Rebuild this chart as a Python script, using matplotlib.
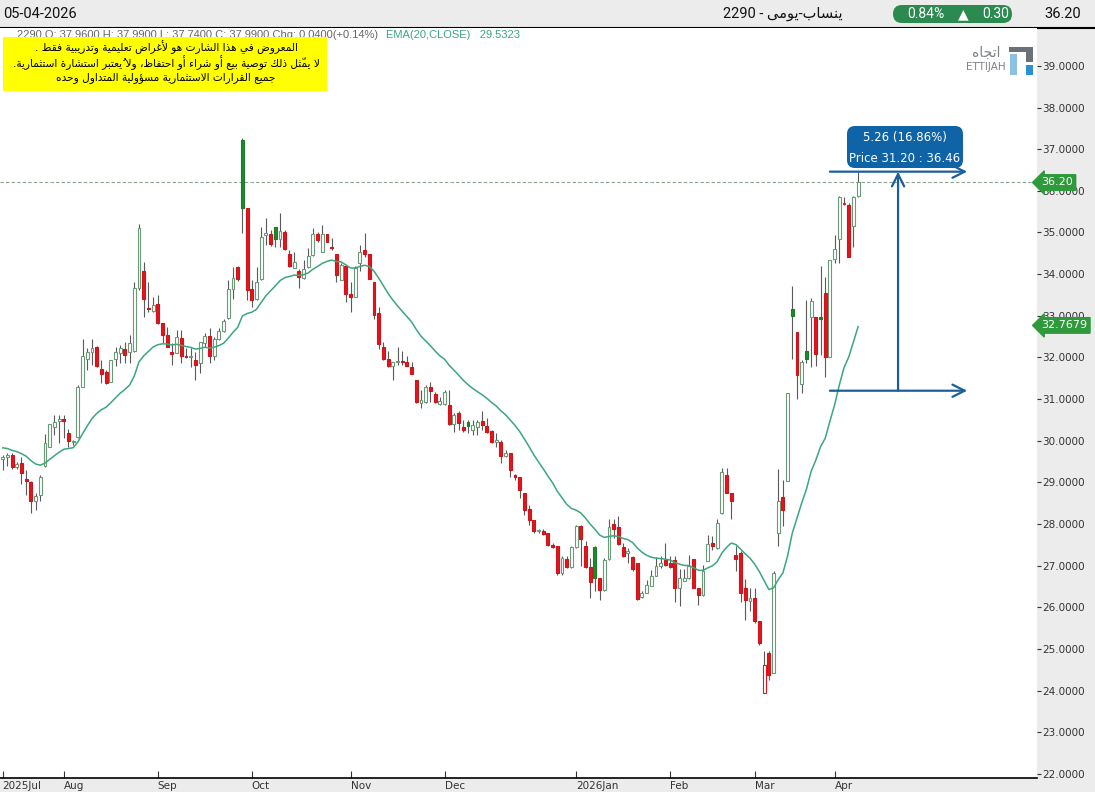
import matplotlib
matplotlib.use('Agg')
import matplotlib.pyplot as plt
from matplotlib.patches import FancyBboxPatch, Rectangle
import numpy as np
import pandas as pd

# ---- data ----
opens = [29.56, 29.60, 29.66, 29.36, 29.46, 29.08, 29.00, 28.54, 28.70, 29.39,
         29.86, 30.34, 30.47, 30.52, 30.18, 29.97, 30.08, 31.30, 31.96, 32.12,
         32.24, 31.72, 31.64, 31.40, 31.96, 32.10, 32.20, 32.14, 32.16, 33.66,
         34.08, 33.19, 33.12, 33.28, 32.82, 32.54, 32.14, 32.10, 32.46, 32.01,
         32.02, 31.94, 31.86, 32.34, 32.52, 32.04, 32.44, 32.64, 32.94, 33.64,
         34.17, 37.22, 35.58, 33.64, 33.40, 33.88, 34.94, 34.97, 35.14, 34.84,
         35.02, 34.48, 34.14, 34.08, 33.90, 34.17, 34.46, 34.96, 34.52, 34.96,
         34.63, 34.48, 33.86, 34.20, 33.52, 33.46, 34.26, 34.58, 34.48, 33.80,
         33.06, 32.26, 31.96, 31.80, 31.89, 31.90, 31.90, 31.76, 31.46, 30.91,
         30.94, 31.28, 31.12, 30.88, 30.88, 30.86, 30.40, 30.67, 30.34, 30.46,
         30.26, 30.34, 30.48, 30.36, 30.23, 29.98, 29.98, 29.63, 29.71, 29.16,
         29.14, 28.74, 28.36, 28.10, 27.82, 27.84, 27.79, 27.50, 27.46, 26.83,
         27.15, 26.96, 27.44, 27.95, 27.46, 26.96, 27.44, 26.70, 26.42, 27.15,
         28.00, 27.92, 27.44, 27.30, 27.20, 27.06, 26.24, 26.35, 26.51, 26.75,
         26.98, 27.14, 27.06, 27.14, 26.46, 26.62, 26.70, 27.15, 26.46, 26.30,
         27.12, 27.54, 27.42, 28.26, 29.18, 28.75, 27.26, 27.31, 26.46, 26.16,
         26.22, 25.66, 23.94, 24.90, 24.43, 27.78, 28.64, 29.02, 33.16, 32.62,
         31.36, 32.16, 32.96, 32.96, 32.96, 33.54, 32.02, 34.36, 34.84, 35.68,
         35.66, 35.16, 35.88]
highs = [29.66, 29.71, 29.71, 29.49, 29.62, 29.30, 29.02, 28.74, 29.18, 30.16,
         30.40, 30.62, 30.62, 30.62, 30.28, 30.02, 31.34, 32.44, 32.22, 32.44,
         32.27, 31.94, 31.70, 31.94, 32.26, 32.30, 32.36, 32.54, 33.82, 35.21,
         34.28, 33.82, 33.46, 33.50, 32.82, 32.74, 32.34, 32.66, 32.66, 32.22,
         32.23, 32.14, 32.38, 32.58, 32.70, 32.50, 32.70, 32.92, 33.86, 34.17,
         34.20, 37.27, 35.58, 33.86, 34.17, 35.14, 35.35, 35.06, 35.14, 35.47,
         35.06, 34.58, 34.54, 34.12, 34.34, 34.62, 35.11, 35.00, 35.18, 34.96,
         34.87, 34.48, 34.26, 34.22, 33.82, 34.20, 34.70, 34.98, 34.48, 33.80,
         33.22, 32.36, 32.16, 31.89, 32.26, 32.16, 32.04, 31.90, 31.46, 31.22,
         31.34, 31.42, 31.18, 31.06, 31.22, 31.22, 30.66, 30.72, 30.50, 30.50,
         30.50, 30.50, 30.72, 30.55, 30.26, 30.19, 30.02, 29.78, 29.71, 29.20,
         29.14, 28.74, 28.46, 28.10, 27.88, 27.87, 27.79, 27.55, 27.46, 27.22,
         27.22, 27.46, 27.98, 27.98, 27.58, 27.18, 27.46, 26.70, 27.18, 28.12,
         28.12, 28.18, 27.54, 27.42, 27.23, 27.06, 26.38, 26.66, 26.90, 27.20,
         27.22, 27.54, 27.22, 27.22, 26.91, 26.91, 27.26, 27.15, 26.46, 27.02,
         27.74, 27.70, 28.12, 29.34, 29.34, 28.75, 27.46, 27.34, 26.67, 26.46,
         26.46, 25.66, 24.94, 24.94, 26.86, 29.32, 29.06, 31.15, 33.72, 32.62,
         31.94, 33.38, 33.42, 32.96, 34.20, 33.92, 34.34, 34.94, 35.88, 35.86,
         35.70, 35.88, 36.45]
lows = [29.30, 29.39, 29.32, 29.32, 28.96, 28.70, 28.26, 28.34, 28.54, 29.38,
        29.86, 30.14, 29.95, 30.07, 29.86, 29.90, 30.06, 31.28, 31.70, 31.82,
        31.77, 31.38, 31.36, 31.40, 31.80, 31.86, 31.86, 31.87, 32.14, 33.62,
        32.98, 33.10, 33.10, 32.80, 32.34, 32.26, 31.82, 32.10, 31.86, 31.98,
        31.78, 31.46, 31.62, 32.26, 31.87, 31.94, 32.42, 32.62, 32.92, 33.40,
        33.84, 34.98, 33.38, 33.22, 33.38, 33.86, 34.70, 34.68, 34.66, 34.66,
        34.58, 34.17, 34.14, 33.66, 33.88, 34.14, 34.44, 34.78, 34.52, 34.76,
        34.58, 33.82, 33.85, 33.34, 33.10, 33.46, 34.08, 34.42, 33.88, 32.92,
        32.20, 31.94, 31.78, 31.46, 31.82, 31.82, 31.80, 31.60, 30.90, 30.78,
        30.90, 30.94, 30.91, 30.86, 30.86, 30.38, 30.22, 30.26, 30.22, 30.18,
        30.14, 30.14, 30.26, 30.18, 29.95, 29.86, 29.46, 29.60, 29.14, 29.06,
        28.62, 28.22, 27.98, 27.78, 27.78, 27.74, 27.47, 27.42, 26.78, 26.78,
        26.94, 26.94, 27.42, 26.98, 26.94, 26.22, 26.38, 26.18, 26.40, 27.14,
        27.66, 27.50, 27.20, 27.06, 26.88, 26.18, 26.22, 26.34, 26.50, 26.74,
        26.94, 26.98, 26.94, 26.13, 26.02, 26.62, 26.68, 26.46, 26.06, 26.27,
        27.10, 27.38, 27.40, 28.24, 28.75, 28.12, 26.86, 26.13, 25.70, 25.90,
        25.63, 25.10, 23.94, 24.26, 24.42, 27.47, 27.94, 29.02, 31.96, 31.00,
        31.15, 31.86, 31.78, 31.80, 32.06, 31.52, 32.00, 34.26, 34.26, 35.66,
        34.41, 34.66, 35.86]
closes = [29.62, 29.66, 29.36, 29.44, 29.23, 29.02, 28.54, 28.66, 29.14, 29.95,
          30.40, 30.46, 30.52, 30.47, 30.00, 30.00, 31.30, 32.04, 32.14, 32.22,
          31.80, 31.60, 31.38, 31.94, 32.12, 32.22, 32.06, 32.34, 33.66, 35.10,
          33.40, 33.17, 33.25, 32.82, 32.54, 32.26, 32.08, 32.48, 32.04, 32.00,
          32.04, 31.82, 32.36, 32.52, 32.04, 32.44, 32.64, 32.88, 33.64, 33.90,
          33.88, 35.58, 33.62, 33.38, 33.82, 34.90, 34.99, 34.72, 34.84, 35.04,
          34.60, 34.20, 34.30, 33.93, 34.12, 34.44, 34.96, 34.82, 34.96, 34.76,
          34.62, 33.98, 34.22, 33.52, 33.46, 34.14, 34.54, 34.48, 33.88, 33.02,
          32.32, 31.96, 31.80, 31.88, 31.90, 31.89, 31.80, 31.60, 30.94, 30.98,
          31.30, 31.20, 30.94, 30.96, 31.18, 30.40, 30.62, 30.43, 30.26, 30.36,
          30.38, 30.46, 30.38, 30.22, 29.96, 30.02, 29.63, 29.71, 29.30, 29.14,
          28.82, 28.34, 28.10, 27.82, 27.86, 27.76, 27.50, 27.44, 26.83, 27.18,
          26.96, 27.44, 27.94, 27.63, 26.96, 26.61, 26.71, 26.42, 27.14, 27.92,
          27.87, 27.52, 27.23, 27.35, 26.91, 26.19, 26.34, 26.54, 26.75, 26.98,
          27.06, 27.02, 26.96, 26.46, 26.70, 26.70, 26.98, 26.46, 26.30, 26.86,
          27.52, 27.46, 28.03, 29.26, 28.75, 28.54, 27.15, 26.35, 26.18, 26.22,
          25.66, 25.14, 24.62, 24.38, 26.83, 28.56, 28.34, 31.15, 33.00, 31.58,
          31.90, 31.96, 33.36, 32.08, 32.92, 32.00, 34.34, 34.60, 35.86, 35.71,
          34.41, 35.86, 36.20]
ema_seed = 29.85          # EMA value just before the first visible bar

month_ticks = [0, 13, 33, 53, 74, 94, 122, 142, 160, 177]
month_labels = ['2025Jul', 'Aug', 'Sep', 'Oct', 'Nov', 'Dec', '2026Jan', 'Feb', 'Mar', 'Apr']
price_ticks = list(range(22, 40))

last_price = 36.20
ema_last_label = 32.7679
meas_low, meas_high = 31.20, 36.46
meas_x0, meas_x1, meas_xv = 176, 205.2, 190.5

disclaimer = ['المعروض في هذا الشارت هو لأغراض تعليمية وتدريبية فقط .',
              'لا يمثّل ذلك توصية بيع أو شراء أو احتفاظ، ولا يُعتبر استشارة استثمارية.',
              'جميع القرارات الاستثمارية مسؤولية المتداول وحده']

# ---- minimal Arabic shaping (matplotlib has no complex text layout) ----
AR = {
    'ء': (0xFE80, None, None, None), 'آ': (0xFE81, 0xFE82, None, None),
    'أ': (0xFE83, 0xFE84, None, None), 'ؤ': (0xFE85, 0xFE86, None, None),
    'إ': (0xFE87, 0xFE88, None, None), 'ئ': (0xFE89, 0xFE8A, 0xFE8B, 0xFE8C),
    'ا': (0xFE8D, 0xFE8E, None, None), 'ب': (0xFE8F, 0xFE90, 0xFE91, 0xFE92),
    'ة': (0xFE93, 0xFE94, None, None), 'ت': (0xFE95, 0xFE96, 0xFE97, 0xFE98),
    'ث': (0xFE99, 0xFE9A, 0xFE9B, 0xFE9C), 'ج': (0xFE9D, 0xFE9E, 0xFE9F, 0xFEA0),
    'ح': (0xFEA1, 0xFEA2, 0xFEA3, 0xFEA4), 'خ': (0xFEA5, 0xFEA6, 0xFEA7, 0xFEA8),
    'د': (0xFEA9, 0xFEAA, None, None), 'ذ': (0xFEAB, 0xFEAC, None, None),
    'ر': (0xFEAD, 0xFEAE, None, None), 'ز': (0xFEAF, 0xFEB0, None, None),
    'س': (0xFEB1, 0xFEB2, 0xFEB3, 0xFEB4), 'ش': (0xFEB5, 0xFEB6, 0xFEB7, 0xFEB8),
    'ص': (0xFEB9, 0xFEBA, 0xFEBB, 0xFEBC), 'ض': (0xFEBD, 0xFEBE, 0xFEBF, 0xFEC0),
    'ط': (0xFEC1, 0xFEC2, 0xFEC3, 0xFEC4), 'ظ': (0xFEC5, 0xFEC6, 0xFEC7, 0xFEC8),
    'ع': (0xFEC9, 0xFECA, 0xFECB, 0xFECC), 'غ': (0xFECD, 0xFECE, 0xFECF, 0xFED0),
    'ف': (0xFED1, 0xFED2, 0xFED3, 0xFED4), 'ق': (0xFED5, 0xFED6, 0xFED7, 0xFED8),
    'ك': (0xFED9, 0xFEDA, 0xFEDB, 0xFEDC), 'ل': (0xFEDD, 0xFEDE, 0xFEDF, 0xFEE0),
    'م': (0xFEE1, 0xFEE2, 0xFEE3, 0xFEE4), 'ن': (0xFEE5, 0xFEE6, 0xFEE7, 0xFEE8),
    'ه': (0xFEE9, 0xFEEA, 0xFEEB, 0xFEEC), 'و': (0xFEED, 0xFEEE, None, None),
    'ى': (0xFEEF, 0xFEF0, None, None), 'ي': (0xFEF1, 0xFEF2, 0xFEF3, 0xFEF4),
}
LAM_ALEF = {'ا': (0xFEFB, 0xFEFC), 'أ': (0xFEF7, 0xFEF8), 'إ': (0xFEF9, 0xFEFA), 'آ': (0xFEF5, 0xFEF6)}


def is_mark(ch):
    return '\u064b' <= ch <= '\u065f' or ch == '\u0670'


def ar(text):
    s = list(text)
    n = len(s)

    def neighbour(i, step):
        j = i + step
        while 0 <= j < n and is_mark(s[j]):
            j += step
        return j

    clusters = []
    i = 0
    while i < n:
        ch = s[i]
        if ch in AR:
            p = neighbour(i, -1)
            jp = p >= 0 and s[p] in AR and AR[s[p]][2] is not None and AR[ch][1] is not None
            q = neighbour(i, 1)
            nx = s[q] if q < n else None
            if ch == 'ل' and nx in LAM_ALEF:
                g = chr(LAM_ALEF[nx][1 if jp else 0]) + ''.join(s[i + 1:q])
                i = q + 1
                while i < n and is_mark(s[i]):
                    g += s[i]
                    i += 1
                clusters.append(g)
                continue
            jn = AR[ch][2] is not None and nx in AR and AR[nx][1] is not None
            f = AR[ch]
            code = f[3] if (jp and jn) else f[1] if jp else f[2] if jn else f[0]
            g = chr(code)
        else:
            g = ch
        i += 1
        while i < n and is_mark(s[i]):
            g += s[i]
            i += 1
        clusters.append(g)
    return ''.join(reversed(clusters))


# ---- figure ----
W, H = 1095, 792
fig = plt.figure(figsize=(W / 100, H / 100), dpi=100)
fig.patch.set_facecolor('white')

bg = fig.add_axes([0, 0, 1, 1], zorder=0)
bg.set_xlim(0, W)
bg.set_ylim(H, 0)
bg.axis('off')
bg.add_patch(Rectangle((0, 0), W, 27.5, color='#ececec', lw=0))
bg.add_patch(Rectangle((1037, 27.5), W - 1037, H, color='#ececec', lw=0))
bg.add_patch(Rectangle((0, 778), W, 20, color='#ececec', lw=0))
bg.plot([0, W], [27.5, 27.5], color='black', lw=1.5)

ax = fig.add_axes([0, 14 / H, 1037 / W, 750 / H], zorder=1)
ax.set_facecolor('white')

x = np.arange(len(closes))
o, h, l, c = map(np.array, (opens, highs, lows, closes))
prev = np.concatenate([[c[0]], c[:-1]])
up_day = c >= prev
hollow = c > o

face = np.where(hollow, 'white', np.where(up_day, '#1f8a2f', '#e5141c'))
edge = np.where(hollow, np.where(up_day, '#6a9a78', '#e5141c'),
                np.where(up_day, '#1a7a28', '#cc141a'))

ax.vlines(x, l, h, color='#5a5a5a', lw=0.8, zorder=2)
ax.bar(x, np.maximum(np.abs(c - o), 0.025), bottom=np.minimum(o, c), width=0.62,
       color=face, edgecolor=edge, linewidth=0.8, zorder=3)

ema = pd.Series([ema_seed] + closes).ewm(span=20, adjust=False).mean().iloc[1:].values
ax.plot(x, ema, color='#3aa77c', lw=1.1, zorder=4)

ax.axhline(last_price, color='#8aa38f', lw=0.8, ls=(0, (3, 2)), zorder=1)

# measure tool
blue = '#1b5f9a'
for yv in (meas_high, meas_low):
    ax.annotate('', xy=(meas_x1, yv), xytext=(meas_x0, yv),
                arrowprops=dict(arrowstyle='->', color=blue, lw=1.6, mutation_scale=22,
                                shrinkA=0, shrinkB=0), zorder=6)
ax.annotate('', xy=(meas_xv, meas_high), xytext=(meas_xv, meas_low),
            arrowprops=dict(arrowstyle='->', color=blue, lw=1.6, mutation_scale=22,
                            shrinkA=0, shrinkB=0), zorder=6)

ax.set_xlim(-0.574, 220.06)
ax.set_ylim(21.90, 39.91)

ax.yaxis.tick_right()
ax.set_yticks(price_ticks)
ax.set_yticklabels(['%.4f' % v for v in price_ticks])
ax.tick_params(axis='y', direction='out', length=3, width=0.8, pad=1, labelsize=7.5,
               colors='#333333')
ax.set_xticks(month_ticks)
ax.set_xticklabels(month_labels)
ax.tick_params(axis='x', direction='in', length=5, width=0.8, pad=2, labelsize=7.5,
               colors='#333333')
for t in ax.get_xticklabels():
    t.set_ha('left')
for s in ('top', 'right', 'left'):
    ax.spines[s].set_visible(False)
ax.spines['bottom'].set_color('black')
ax.spines['bottom'].set_linewidth(1.2)

# price labels on the right axis
for val, txt in ((last_price, '%.2f' % last_price), (ema_last_label, '%.4f' % ema_last_label)):
    ax.text(1.004, val, txt, transform=ax.get_yaxis_transform(), ha='left', va='center',
            fontsize=8, color='white', clip_on=False, zorder=8,
            bbox=dict(boxstyle='larrow,pad=0.25', fc='#2f9a3c', ec='#2f9a3c'))

# ---- overlay (pixel coordinates) ----
top = fig.add_axes([0, 0, 1, 1], zorder=5)
top.set_xlim(0, W)
top.set_ylim(H, 0)
top.axis('off')
top.patch.set_alpha(0)

top.text(3, 14, '05-04-2026', fontsize=10.5, family='Roboto', va='center', color='#111111')
top.text(843, 14, '2290 - ' + ar('ينساب-يومى'), fontsize=10.5, family=['Roboto', 'DejaVu Sans'],
         va='center', ha='right', color='#111111')
top.add_patch(FancyBboxPatch((893, 5), 119, 18, boxstyle='round,pad=0,rounding_size=9',
                             fc='#2b8a4f', ec='none'))
top.text(926, 14.5, '0.84%', fontsize=10, family='Roboto', color='white', ha='center', va='center')
top.text(963, 14, '▲', fontsize=10, family='DejaVu Sans', color='white', ha='center', va='center')
top.text(996, 14.5, '0.30', fontsize=10, family='Roboto', color='white', ha='center', va='center')
top.text(1063, 14.5, '36.20', fontsize=10.5, family='Roboto', color='#111111', ha='center', va='center')

top.text(378, 35, '2290 O: 37.9600 H: 37.9900 L: 37.7400 C: 37.9900 Chg: 0.0400(+0.14%)',
         fontsize=8, family='Liberation Sans', color='#666666', ha='right', va='center')
top.text(386, 35, 'EMA(20,CLOSE)   29.5323', fontsize=8, family='Liberation Sans',
         color='#3aa77c', ha='left', va='center')

top.add_patch(Rectangle((3, 37), 324, 54, fc='#ffff00', ec='none', zorder=3))
for k, line in enumerate(disclaimer):
    top.text(166, 47 + 15.5 * k, ar(line), fontsize=7.6,
             family=['DejaVu Sans Condensed', 'DejaVu Sans'], color='black',
             ha='center', va='center', zorder=4)

# logo
top.text(986, 53, ar('اتجاه'), fontsize=10, family='DejaVu Sans', color='#7b828a',
         ha='center', va='center')
top.text(986, 67, 'ETTIJAH', fontsize=7.5, family='DejaVu Sans', color='#7b828a',
         ha='center', va='center')
top.add_patch(Rectangle((1009, 47), 24, 5, fc='#6b7178', ec='none'))
top.add_patch(Rectangle((1026, 47), 7, 15, fc='#6b7178', ec='none'))
top.add_patch(Rectangle((1010, 54), 7, 21, fc='#8cc1e3', ec='none'))
top.add_patch(Rectangle((1026, 65), 7, 10, fc='#2b8fd2', ec='none'))

# measure box
top.add_patch(FancyBboxPatch((847, 126), 116, 42, boxstyle='round,pad=0,rounding_size=8',
                             fc='#0f64a8', ec='none'))
diff = meas_high - meas_low
top.text(905, 137, '%.2f (%.2f%%)' % (diff, diff / meas_low * 100), fontsize=8.5,
         color='white', ha='center', va='center')
top.text(905, 158, 'Price %.2f : %.2f' % (meas_low, meas_high), fontsize=8.5,
         color='white', ha='center', va='center')

fig.savefig('out.png', dpi=100)
